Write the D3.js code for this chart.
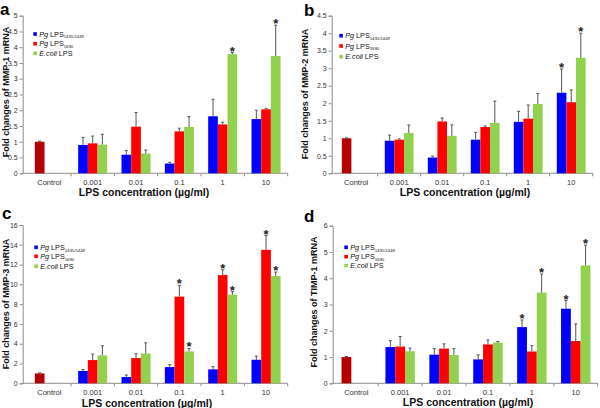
<!DOCTYPE html>
<html><head><meta charset="utf-8">
<script src="https://cdn.jsdelivr.net/npm/d3@7"></script>
<style>body{margin:0;background:#fff}svg{display:block}text{font-family:"Liberation Sans",Arial,sans-serif}</style>
</head><body>
<script>
// ---------- DATA ----------
const categories = ["Control", "0.001", "0.01", "0.1", "1", "10"];
const doseLabels = ["0.001", "0.01", "0.1", "1", "10"];
const seriesKeys = ["pg1435", "pg1690", "ecoli"];

// Panel a: MMP-1
const mmp1Control = 1.0, mmp1ControlErr = 0.02;
const mmp1Pg1435 = [0.90, 0.59, 0.31, 1.81, 1.72];
const mmp1Pg1435Err = [0.24, 0.13, 0.04, 0.54, 0.28];
const mmp1Pg1690 = [0.95, 1.48, 1.33, 1.55, 2.03];
const mmp1Pg1690Err = [0.23, 0.45, 0.10, 0.07, 0.03];
const mmp1Ecoli = [0.91, 0.63, 1.47, 3.78, 3.72];
const mmp1EcoliErr = [0.33, 0.11, 0.33, 0.05, 0.98];
const mmp1Stars = [[], [], [], ["ecoli"], ["ecoli"]];

// Panel b: MMP-2
const mmp2Control = 1.0, mmp2ControlErr = 0.01;
const mmp2Pg1435 = [0.93, 0.45, 0.96, 1.47, 2.30];
const mmp2Pg1435Err = [0.16, 0.04, 0.21, 0.30, 0.68];
const mmp2Pg1690 = [0.96, 1.48, 1.32, 1.56, 2.03];
const mmp2Pg1690Err = [0.02, 0.10, 0.03, 0.39, 0.35];
const mmp2Ecoli = [1.15, 1.07, 1.44, 1.98, 3.30];
const mmp2EcoliErr = [0.23, 0.31, 0.62, 0.30, 0.70];
const mmp2Stars = [[], [], [], [], ["pg1435", "ecoli"]];

// Panel c: MMP-3
const mmp3Control = 1.0, mmp3ControlErr = 0.05;
const mmp3Pg1435 = [1.25, 0.64, 1.64, 1.41, 2.38];
const mmp3Pg1435Err = [0.15, 0.20, 0.24, 0.27, 0.37];
const mmp3Pg1690 = [2.35, 2.55, 8.76, 10.94, 13.49];
const mmp3Pg1690Err = [0.60, 0.44, 1.14, 0.53, 1.44];
const mmp3Ecoli = [2.82, 3.02, 3.22, 8.96, 10.84];
const mmp3EcoliErr = [0.97, 1.07, 0.30, 0.30, 0.40];
const mmp3Stars = [[], [], ["pg1690", "ecoli"], ["pg1690", "ecoli"], ["pg1690", "ecoli"]];

// Panel d: TIMP-1
const timp1Control = 1.0, timp1ControlErr = 0.02;
const timp1Pg1435 = [1.38, 1.09, 0.91, 2.14, 2.84];
const timp1Pg1435Err = [0.24, 0.23, 0.17, 0.27, 0.31];
const timp1Pg1690 = [1.40, 1.32, 1.48, 1.21, 1.61];
const timp1Pg1690Err = [0.38, 0.18, 0.17, 0.22, 0.65];
const timp1Ecoli = [1.22, 1.08, 1.55, 3.45, 4.49];
const timp1EcoliErr = [0.12, 0.24, 0.04, 0.71, 0.77];
const timp1Stars = [[], [], [], ["pg1435", "ecoli"], ["pg1435", "ecoli"]];

// ---------- STYLE ----------
const colors = { pg1435: "#0000ff", pg1690: "#ff0000", ecoli: "#92d050", control: "#b40000" };
const axisColor = "#8c8c8c", textColor = "#333", errColor = "#555";

const svg = d3.select("body").append("svg").attr("width", 600).attr("height", 408);

function drawPanel(cfg) {
  const g = svg.append("g");
  const x = d3.scaleBand().domain(categories).range([cfg.bandStart, cfg.bandEnd]);
  const inner = d3.scaleBand().domain(seriesKeys)
    .range([x.bandwidth() * 0.165, x.bandwidth() * 0.835]);
  const y = d3.scaleLinear().domain([0, cfg.yMax]).range([cfg.y0, cfg.yTop]);

  // y axis
  const ticks = d3.range(0, cfg.yMax + cfg.step / 2, cfg.step);
  const yAxis = d3.axisLeft(y).tickValues(ticks).tickSize(3).tickPadding(2)
    .tickFormat(d => d3.format("~g")(+d.toFixed(2)));
  const ya = g.append("g").attr("transform", `translate(${cfg.axisX},0)`).call(yAxis);
  ya.select(".domain").attr("stroke", axisColor);
  ya.selectAll(".tick line").attr("stroke", axisColor);
  ya.selectAll(".tick text").attr("fill", textColor).style("font-size", "7px")
    .style("font-family", "Liberation Sans, Arial, sans-serif");

  // x axis line & ticks at boundaries
  g.append("line").attr("x1", cfg.axisX).attr("x2", cfg.bandEnd)
    .attr("y1", cfg.y0).attr("y2", cfg.y0).attr("stroke", axisColor);
  categories.forEach((c, i) => {
    if (i > 0) {
      g.append("line").attr("x1", x(c)).attr("x2", x(c)).attr("y1", cfg.y0).attr("y2", cfg.y0 + 3).attr("stroke", axisColor);
    }
    g.append("text").attr("x", x(c) + x.bandwidth() / 2).attr("y", cfg.y0 + 11.5)
      .attr("text-anchor", "middle").attr("fill", textColor).style("font-size", "7.5px").text(c);
  });
  g.append("line").attr("x1", cfg.bandEnd).attr("x2", cfg.bandEnd).attr("y1", cfg.y0).attr("y2", cfg.y0 + 3).attr("stroke", axisColor);

  // bars
  const rows = [];
  rows.push({ cat: "Control", key: "pg1435", v: cfg.control, e: cfg.controlErr, color: colors.control, star: false });
  doseLabels.forEach((c, i) => {
    seriesKeys.forEach(k => {
      rows.push({ cat: c, key: k, v: cfg.values[k][i], e: cfg.errs[k][i], color: colors[k], star: cfg.stars[i].includes(k) });
    });
  });
  g.selectAll("rect.bar").data(rows).enter().append("rect").attr("class", "bar")
    .attr("x", d => x(d.cat) + inner(d.key)).attr("width", inner.bandwidth())
    .attr("y", d => y(d.v)).attr("height", d => y(0) - y(d.v)).attr("fill", d => d.color);
  // error bars
  rows.forEach(d => {
    const cx = x(d.cat) + inner(d.key) + inner.bandwidth() / 2;
    const top = y(d.v + d.e);
    g.append("line").attr("x1", cx).attr("x2", cx).attr("y1", y(d.v)).attr("y2", top).attr("stroke", errColor).attr("stroke-width", 1);
    g.append("line").attr("x1", cx - 1.5).attr("x2", cx + 1.5).attr("y1", top).attr("y2", top).attr("stroke", errColor).attr("stroke-width", 1);
    if (d.star) {
      g.append("text").attr("x", cx).attr("y", top + 3).attr("text-anchor", "middle")
        .style("font-size", "13px").style("font-weight", "bold").attr("fill", "#222").text("*");
    }
  });

  // titles
  g.append("text").attr("transform", `translate(${cfg.yTitleX},${cfg.yTitleY}) rotate(-90)`)
    .attr("text-anchor", "middle").attr("dominant-baseline", "central")
    .style("font-size", "9px").style("font-weight", "bold").attr("fill", "#111").text(cfg.yTitle);
  g.append("text").attr("x", cfg.xTitleX).attr("y", cfg.xTitleY).attr("text-anchor", "middle")
    .style("font-size", "10.5px").style("font-weight", "bold").attr("fill", "#111").text("LPS concentration (µg/ml)");
  g.append("text").attr("x", cfg.letterX).attr("y", cfg.letterY)
    .style("font-size", "17px").style("font-weight", "bold").attr("fill", "#000").text(cfg.letter);

  // legend
  const leg = [
    { key: "pg1435", italic: "Pg", rest: " LPS", sub: "1435/1449" },
    { key: "pg1690", italic: "Pg", rest: " LPS", sub: "1690" },
    { key: "ecoli", italic: "E.coli", rest: " LPS", sub: "" }
  ];
  leg.forEach((l, i) => {
    const cy = cfg.legRows[i];
    g.append("rect").attr("x", cfg.legX).attr("y", cy - 1.8).attr("width", 3.6).attr("height", 3.6).attr("fill", colors[l.key]);
    const t = g.append("text").attr("x", cfg.legX + 6).attr("y", cy + 2.5).style("font-size", "7.2px").attr("fill", "#111");
    t.append("tspan").style("font-style", "italic").text(l.italic);
    t.append("tspan").text(l.rest);
    if (l.sub) t.append("tspan").attr("dy", 1.8).style("font-size", "4.3px").text(l.sub);
  });
}

drawPanel({
  letter: "a", letterX: 0, letterY: 15,
  axisX: 22.7, bandStart: 27.7, bandEnd: 287.7, y0: 173.3, yTop: 15.7, yMax: 5, step: 0.5,
  yTitle: "Fold changes of MMP-1 mRNA", yTitleX: 6, yTitleY: 92, xTitleX: 144, xTitleY: 196,
  legX: 33.3, legRows: [34, 43.7, 53.3],
  control: mmp1Control, controlErr: mmp1ControlErr,
  values: { pg1435: mmp1Pg1435, pg1690: mmp1Pg1690, ecoli: mmp1Ecoli },
  errs: { pg1435: mmp1Pg1435Err, pg1690: mmp1Pg1690Err, ecoli: mmp1EcoliErr },
  stars: mmp1Stars
});
drawPanel({
  letter: "b", letterX: 304, letterY: 15.5,
  axisX: 331.7, bandStart: 334.7, bandEnd: 592.7, y0: 173.3, yTop: 15.7, yMax: 4.5, step: 0.5,
  yTitle: "Fold changes of MMP-2 mRNA", yTitleX: 305, yTitleY: 94, xTitleX: 465, xTitleY: 196,
  legX: 339.3, legRows: [35.7, 46, 56.7],
  control: mmp2Control, controlErr: mmp2ControlErr,
  values: { pg1435: mmp2Pg1435, pg1690: mmp2Pg1690, ecoli: mmp2Ecoli },
  errs: { pg1435: mmp2Pg1435Err, pg1690: mmp2Pg1690Err, ecoli: mmp2EcoliErr },
  stars: mmp2Stars
});
drawPanel({
  letter: "c", letterX: 2, letterY: 219,
  axisX: 22.7, bandStart: 27.7, bandEnd: 287.7, y0: 383.3, yTop: 225, yMax: 16, step: 2,
  yTitle: "Fold changes of MMP-3 mRNA", yTitleX: 6, yTitleY: 304, xTitleX: 147, xTitleY: 406.5,
  legX: 34.3, legRows: [247.3, 256.3, 266.3],
  control: mmp3Control, controlErr: mmp3ControlErr,
  values: { pg1435: mmp3Pg1435, pg1690: mmp3Pg1690, ecoli: mmp3Ecoli },
  errs: { pg1435: mmp3Pg1435Err, pg1690: mmp3Pg1690Err, ecoli: mmp3EcoliErr },
  stars: mmp3Stars
});
drawPanel({
  letter: "d", letterX: 304, letterY: 222,
  axisX: 332.7, bandStart: 334.3, bandEnd: 597.7, y0: 383.3, yTop: 225.7, yMax: 6, step: 1,
  yTitle: "Fold changes of TIMP-1 mRNA", yTitleX: 314, yTitleY: 302, xTitleX: 468, xTitleY: 406,
  legX: 344.3, legRows: [247.3, 256.7, 265.7],
  control: timp1Control, controlErr: timp1ControlErr,
  values: { pg1435: timp1Pg1435, pg1690: timp1Pg1690, ecoli: timp1Ecoli },
  errs: { pg1435: timp1Pg1435Err, pg1690: timp1Pg1690Err, ecoli: timp1EcoliErr },
  stars: timp1Stars
});
</script>
</body></html>
